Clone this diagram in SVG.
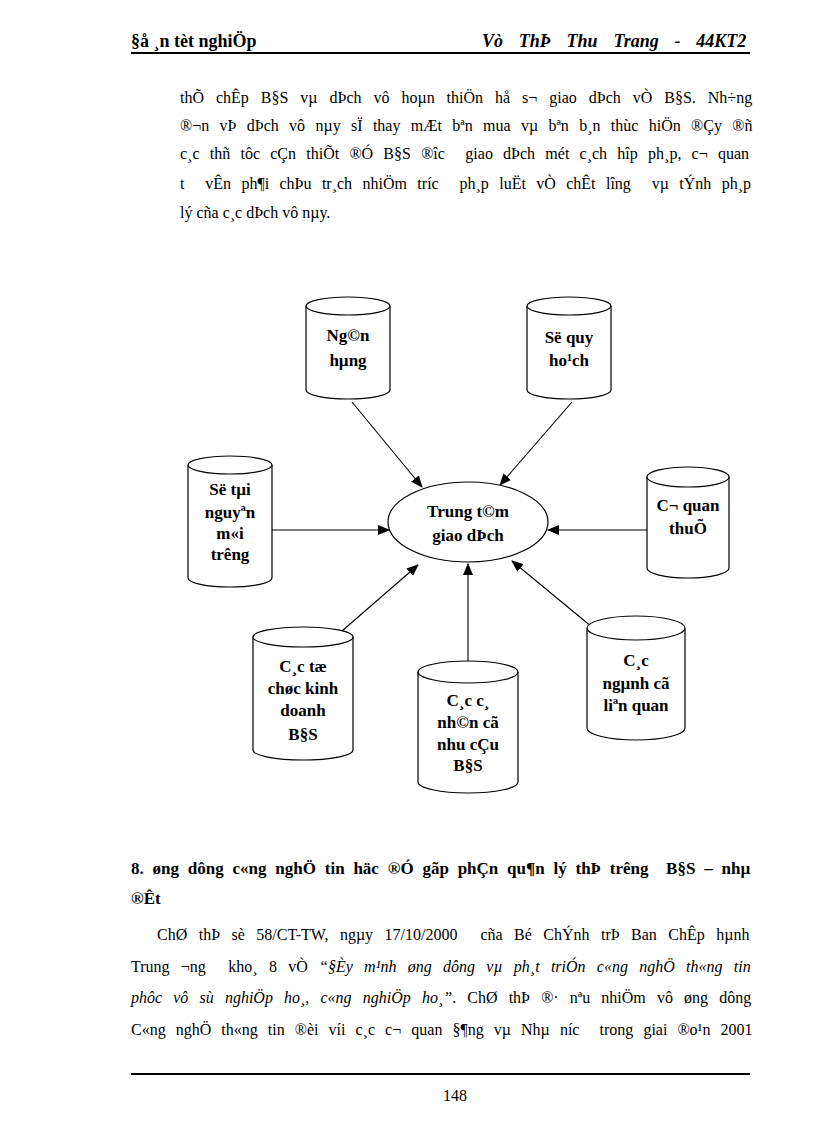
<svg xmlns="http://www.w3.org/2000/svg" width="816" height="1123" viewBox="0 0 816 1123">
<style>
.t{font-family:"Liberation Serif","Times New Roman",serif;font-size:16px;fill:#000;white-space:pre}
.b{font-family:"Liberation Serif","Times New Roman",serif;font-size:17px;font-weight:bold;fill:#000;white-space:pre}
.h{font-family:"Liberation Serif","Times New Roman",serif;font-size:18px;font-weight:bold;fill:#000;white-space:pre}
.n{font-family:"Liberation Serif","Times New Roman",serif;font-size:17px;font-weight:bold;fill:#000;text-anchor:middle}
.i{font-style:italic}
.s{fill:#fff;stroke:#000;stroke-width:1.2}
.c{stroke:#000;stroke-width:1.1;fill:none;marker-end:url(#ah)}
</style>
<defs>
<marker id="ah" markerUnits="userSpaceOnUse" markerWidth="12" markerHeight="10" refX="11" refY="5" orient="auto">
<path d="M0,0 L12,5 L0,10 Z" fill="#000"/>
</marker>
</defs>
<rect width="816" height="1123" fill="#fff"/>
<g id="header">
<text class="h" x="131" y="47">§å ¸n tèt nghiÖp</text>
<text class="h i" x="482" y="47" font-size="19" word-spacing="11.3">Vò ThÞ Thu Trang - 44KT2</text>
<line x1="131" y1="53" x2="750" y2="53" stroke="#000" stroke-width="2"/>
</g>
<g id="para1">
<text class="t" xml:space="preserve" x="180" y="103" word-spacing="7.96">thÕ chÊp B§S vµ dÞch vô hoµn thiÖn hå s¬ giao dÞch vÒ B§S. Nh÷ng</text>
<text class="t" xml:space="preserve" x="180" y="131" word-spacing="6.34">®¬n vÞ dÞch vô nµy sÏ thay mÆt bªn mua vµ bªn b¸n thùc hiÖn ®Çy ®ñ</text>
<text class="t" xml:space="preserve" x="180" y="159" word-spacing="6.24">c¸c thñ tôc cÇn thiÕt ®Ó B§S ®îc  giao dÞch mét c¸ch hîp ph¸p, c¬ quan</text>
<text class="t" xml:space="preserve" x="180" y="189" word-spacing="6.4">t  vÊn ph¶i chÞu tr¸ch nhiÖm tríc  ph¸p luËt vÒ chÊt lîng  vµ tÝnh ph¸p</text>
<text class="t" xml:space="preserve" x="180" y="218">lý cña c¸c dÞch vô nµy.</text>
</g>
<g id="connectors">
<line class="c" x1="352" y1="402" x2="422" y2="487"/>
<line class="c" x1="572" y1="402" x2="500" y2="485"/>
<line class="c" x1="272" y1="530" x2="389" y2="530"/>
<line class="c" x1="647" y1="530" x2="548" y2="530"/>
<line class="c" x1="342" y1="631" x2="418" y2="565"/>
<line class="c" x1="468" y1="661" x2="468" y2="564"/>
<line class="c" x1="592" y1="627" x2="512" y2="561"/>
</g>
<g id="node-nganhang">
<path class="s" d="M306,306 L306,390 A42,9 0 0 0 390,390 L390,306"/>
<ellipse class="s" cx="348" cy="306" rx="42" ry="9"/>
<text class="n" x="348" y="341">Ng©n</text>
<text class="n" x="348" y="366">hµng</text>
</g>
<g id="node-soquyhoach">
<path class="s" d="M527,306 L527,390 A42,9 0 0 0 611,390 L611,306"/>
<ellipse class="s" cx="569" cy="306" rx="42" ry="9"/>
<text class="n" x="569" y="343">Së quy</text>
<text class="n" x="569" y="366">ho¹ch</text>
</g>
<g id="node-sotainguyen">
<path class="s" d="M188,465 L188,578 A42,9 0 0 0 272,578 L272,465"/>
<ellipse class="s" cx="230" cy="465" rx="42" ry="9"/>
<text class="n" x="230" y="495">Së tµi</text>
<text class="n" x="230" y="518">nguyªn</text>
<text class="n" x="230" y="539">m«i</text>
<text class="n" x="230" y="560">trêng</text>
</g>
<g id="node-trungtam">
<ellipse class="s" cx="468" cy="522" rx="80" ry="40"/>
<text class="n" x="468" y="517">Trung t©m</text>
<text class="n" x="468" y="541">giao dÞch</text>
</g>
<g id="node-coquanthue">
<path class="s" d="M647,477 L647,568 A41,10 0 0 0 729,568 L729,477"/>
<ellipse class="s" cx="688" cy="477" rx="41" ry="10"/>
<text class="n" x="688" y="511">C¬ quan</text>
<text class="n" x="688" y="534">thuÕ</text>
</g>
<g id="node-tochuc">
<path class="s" d="M253,637 L253,750 A50,10 0 0 0 353,750 L353,637"/>
<ellipse class="s" cx="303" cy="637" rx="50" ry="10"/>
<text class="n" x="303" y="672">C¸c tæ</text>
<text class="n" x="303" y="694">chøc kinh</text>
<text class="n" x="303" y="716">doanh</text>
<text class="n" x="303" y="740">B§S</text>
</g>
<g id="node-canhan">
<path class="s" d="M418,672 L418,782 A50,11 0 0 0 518,782 L518,672"/>
<ellipse class="s" cx="468" cy="672" rx="50" ry="11"/>
<text class="n" x="468" y="706">C¸c c¸</text>
<text class="n" x="468" y="728">nh©n cã</text>
<text class="n" x="468" y="750">nhu cÇu</text>
<text class="n" x="468" y="771">B§S</text>
</g>
<g id="node-nganh">
<path class="s" d="M587,628 L587,728 A49,12 0 0 0 685,728 L685,628"/>
<ellipse class="s" cx="636" cy="628" rx="49" ry="12"/>
<text class="n" x="636" y="666">C¸c</text>
<text class="n" x="636" y="689">ngµnh cã</text>
<text class="n" x="636" y="711">liªn quan</text>
</g>
<g id="section">
<text class="b" xml:space="preserve" x="131" y="874" word-spacing="4.55">8. øng dông c«ng nghÖ tin häc ®Ó gãp phÇn qu¶n lý thÞ trêng  B§S – nhµ</text>
<text class="b" xml:space="preserve" x="131" y="904">®Êt</text>
</g>
<g id="para2">
<text class="t" xml:space="preserve" x="157" y="940" word-spacing="7.46">ChØ thÞ sè 58/CT-TW, ngµy 17/10/2000  cña Bé ChÝnh trÞ Ban ChÊp hµnh</text>
<text class="t" xml:space="preserve" x="131" y="972" word-spacing="7.27">Trung ¬ng  kho¸ 8 vÒ <tspan class="i">“§Èy m¹nh øng dông vµ ph¸t triÓn c«ng nghÖ th«ng tin</tspan></text>
<text class="t" xml:space="preserve" x="131" y="1003" word-spacing="7.15"><tspan class="i">phôc vô sù nghiÖp ho¸, c«ng nghiÖp ho¸”</tspan>. ChØ thÞ ®· nªu nhiÖm vô øng dông</text>
<text class="t" xml:space="preserve" x="131" y="1035" word-spacing="6.06">C«ng nghÖ th«ng tin ®èi víi c¸c c¬ quan §¶ng vµ Nhµ níc  trong giai ®o¹n 2001</text>
</g>
<g id="footer">
<line x1="131" y1="1074" x2="750" y2="1074" stroke="#000" stroke-width="2"/>
<text class="t" x="455" y="1101" text-anchor="middle" font-size="15">148</text>
</g>
</svg>
